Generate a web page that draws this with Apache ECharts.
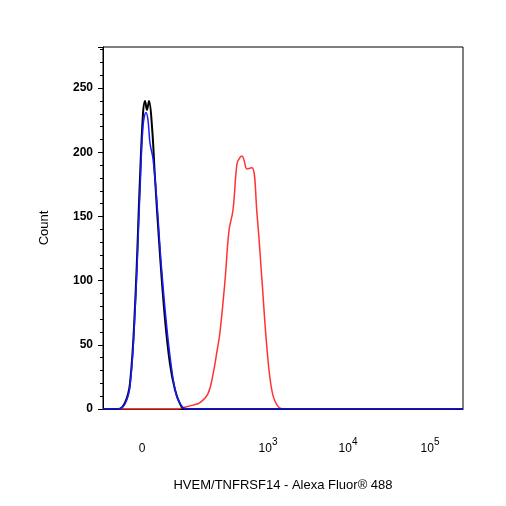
<!DOCTYPE html><html><head><meta charset="utf-8"><script src="https://cdn.jsdelivr.net/npm/echarts@6/dist/echarts.min.js"></script>
<style>html,body{margin:0;background:#fff}#c{width:506px;height:506px}</style></head><body><div id="c"></div><script>
// x in display channels (biexponential display scale, 0..360)
const xTickLabels = [[39,'0'],[165,'3'],[245,'4'],[327,'5']];
const blackData = [[0,0],[15,0],[22,5],[27,20],[32,80],[37,180],[40,230],[42,240],[44,233],[46,240],[49,220],[52,180],[57,120],[62,70],[67,35],[72,15],[77,4],[82,0],[360,0]];
const blueData = [[0,0],[15,0],[22,4],[27,18],[32,75],[37,170],[40,220],[43,231],[45,225],[47,207],[50,195],[54,160],[58,115],[63,70],[68,35],[73,12],[78,3],[83,0],[360,0]];
const redData = [[0,0],[75,0],[80,1],[90,3],[97,5],[105,12],[110,27],[114,45],[117,60],[122,100],[126,139],[130,155],[134,191],[137,196],[139,197],[141,194],[144,187],[149,188],[154,152],[159,100],[164,47],[169,14],[175,2],[182,0],[360,0]];
const font='Liberation Sans';
const ch=echarts.init(document.getElementById('c'));
const lbl={};xTickLabels.forEach(([v,t])=>lbl[v]=t);
ch.setOption({
 animation:false,
 grid:{left:103,right:43,top:47,bottom:97,show:true,borderColor:'#000',borderWidth:1},
 xAxis:{type:'value',min:0,max:360,interval:1,
  name:'HVEM/TNFRSF14 - Alexa Fluor® 488',nameLocation:'middle',nameGap:70,
  nameTextStyle:{fontFamily:font,fontSize:13,color:'#000'},
  axisLine:{lineStyle:{color:'#000'}},axisTick:{show:false},splitLine:{show:false},
  axisLabel:{hideOverlap:false,showMinLabel:true,showMaxLabel:false,margin:28,
   formatter:v=>{const t=lbl[Math.round(v)];if(t===undefined||Math.abs(v-Math.round(v))>1e-6)return '';return t==='0'?'{n|0}':'{n|10}{s|'+t+'}';},
   rich:{n:{fontFamily:font,fontSize:12,color:'#000',padding:[6,0,0,0]},s:{fontFamily:font,fontSize:10,color:'#000',verticalAlign:'top',padding:[0,0,8,0]}}}},
 yAxis:{type:'value',min:0,max:282,interval:50,
  name:'Count',nameLocation:'middle',nameGap:52,nameTextStyle:{fontFamily:font,fontSize:13,color:'#000'},
  axisLine:{show:true,lineStyle:{color:'#000'}},axisTick:{show:true,length:5,lineStyle:{color:'#000'}},
  minorTick:{show:true,splitNumber:5,length:3,lineStyle:{color:'#000'}},splitLine:{show:false},
  axisLabel:{showMaxLabel:false,fontFamily:font,fontSize:12,fontWeight:'bold',color:'#000',margin:10}},
 series:[
  {type:'line',data:redData,smooth:0.4,symbol:'none',lineStyle:{color:'#ff3333',width:1.5}},
  {type:'line',data:blackData,smooth:0.4,symbol:'none',lineStyle:{color:'#000',width:2}},
  {type:'line',data:blueData,smooth:0.4,symbol:'none',lineStyle:{color:'#1a1aff',width:1.5}}
 ]});
</script></body></html>
